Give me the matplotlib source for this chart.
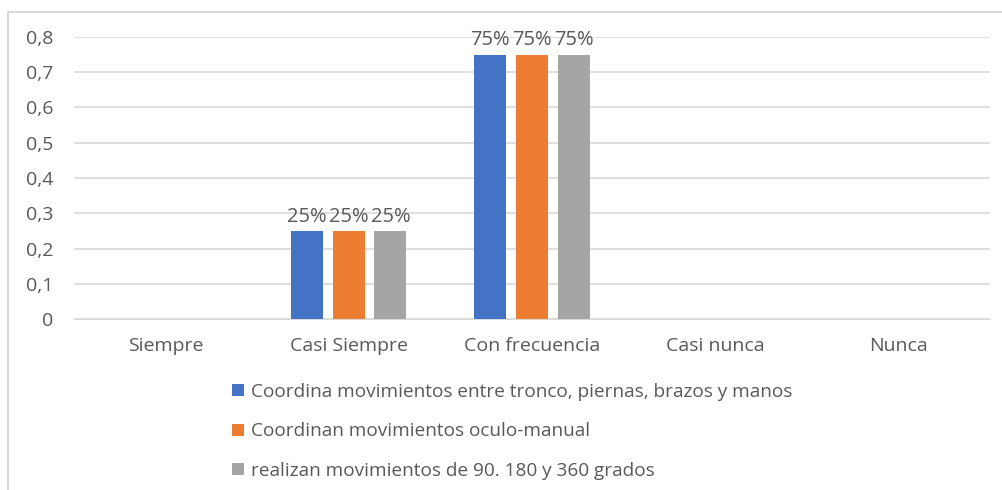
import matplotlib.pyplot as plt
import numpy as np

plt.rcParams['font.family'] = ['Open Sans', 'DejaVu Sans']

categories = ["Siempre", "Casi Siempre", "Con frecuencia", "Casi nunca", "Nunca"]
series_names = [
    "Coordina movimientos entre tronco, piernas, brazos y manos",
    "Coordinan movimientos oculo-manual",
    "realizan movimientos de 90. 180 y 360 grados",
]
tronco = [0, 0.25, 0.75, 0, 0]
oculo = [0, 0.25, 0.75, 0, 0]
grados = [0, 0.25, 0.75, 0, 0]
colors = ["#4472C4", "#ED7D31", "#A5A5A5"]
text_col = "#595959"

fig = plt.figure(figsize=(10.03, 4.90), dpi=100)
ax = fig.add_axes([74 / 1003, 1 - 319 / 490, 916 / 1003, 282 / 490])

# frame around the chart
fig.add_artist(plt.Rectangle((8 / 1003, -0.01), 1.0, 1 - 12 / 490 + 0.01,
                             transform=fig.transFigure, fill=False,
                             edgecolor="#D9D9D9", linewidth=1.5))

x = np.arange(len(categories))
width = 0.175
step = 0.227
for i, (vals, name) in enumerate(zip([tronco, oculo, grados], series_names)):
    pos = x + (i - 1) * step
    bars = ax.bar(pos, vals, width, color=colors[i], label=name, zorder=3)
    for b, v in zip(bars, vals):
        if v > 0:
            ax.text(b.get_x() + b.get_width() / 2, v + 0.012, f"{v:.0%}",
                    ha="center", va="bottom", fontsize=14.5, color=text_col)

ax.set_xlim(-0.5, len(categories) - 0.5)
ax.set_ylim(0, 0.8)
ax.set_yticks(np.arange(0, 0.81, 0.1))
ax.set_yticklabels(["0"] + [f"0,{i}" for i in range(1, 9)])
ax.set_xticks(x)
ax.set_xticklabels(categories)
ax.tick_params(length=0, labelsize=14, colors=text_col)
ax.tick_params(axis="y", pad=15)
ax.tick_params(axis="x", pad=13)
ax.grid(axis="y", color="#D9D9D9", linewidth=1.2, zorder=0)
for s in ["top", "right", "left"]:
    ax.spines[s].set_visible(False)
ax.spines["bottom"].set_color("#D9D9D9")

leg = fig.legend(loc="upper left", bbox_to_anchor=(215 / 1003, 1 - 366 / 490),
                 frameon=False, fontsize=13.7, labelspacing=1.12,
                 handlelength=0.6, handleheight=0.6, handletextpad=0.4)
for t in leg.get_texts():
    t.set_color(text_col)

fig.savefig("out.png", dpi=100)
